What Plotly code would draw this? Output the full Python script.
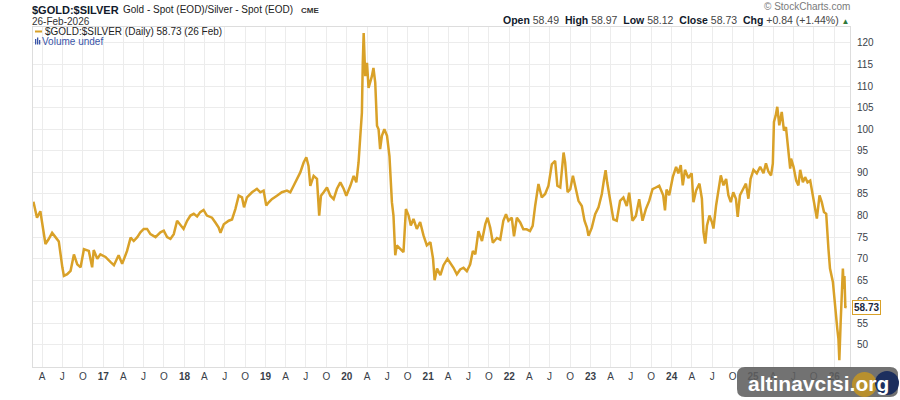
import plotly.graph_objects as go

# ---------------- data ----------------
dates = [
    "2016-02-22", "2016-03-01", "2016-03-09", "2016-03-24", "2016-04-08", "2016-04-16", "2016-04-30",
    "2016-05-16", "2016-05-31", "2016-06-15", "2016-07-01", "2016-07-08", "2016-07-23", "2016-08-07",
    "2016-08-22", "2016-09-06", "2016-09-21", "2016-10-06", "2016-10-28", "2016-11-12", "2016-11-19",
    "2016-12-05", "2016-12-19", "2017-01-11", "2017-02-03", "2017-02-18", "2017-03-11", "2017-03-27",
    "2017-04-18", "2017-05-04", "2017-05-18", "2017-06-03", "2017-06-17", "2017-07-02", "2017-07-17",
    "2017-08-01", "2017-08-24", "2017-09-15", "2017-09-30", "2017-10-15", "2017-10-30", "2017-11-14",
    "2017-11-29", "2017-12-13", "2017-12-28", "2018-01-13", "2018-01-28", "2018-02-12", "2018-02-27",
    "2018-03-13", "2018-03-28", "2018-04-12", "2018-05-05", "2018-05-20", "2018-06-04", "2018-06-12",
    "2018-06-27", "2018-07-19", "2018-08-03", "2018-08-18", "2018-09-02", "2018-09-17", "2018-09-26",
    "2018-10-09", "2018-11-01", "2018-11-23", "2018-12-08", "2018-12-23", "2019-01-04", "2019-01-14",
    "2019-01-29", "2019-02-21", "2019-03-15", "2019-04-07", "2019-04-22", "2019-05-07", "2019-05-22",
    "2019-06-06", "2019-06-21", "2019-07-03", "2019-07-13", "2019-07-21", "2019-08-05", "2019-08-20",
    "2019-08-30", "2019-09-07", "2019-09-19", "2019-10-04", "2019-10-19", "2019-11-03", "2019-11-18",
    "2019-12-03", "2019-12-18", "2019-12-30", "2020-01-17", "2020-02-01", "2020-02-13", "2020-02-23",
    "2020-03-02", "2020-03-09", "2020-03-13", "2020-03-17", "2020-03-24", "2020-04-01", "2020-04-08",
    "2020-04-15", "2020-04-23", "2020-04-30", "2020-05-08", "2020-05-16", "2020-05-23", "2020-05-30",
    "2020-06-07", "2020-06-18", "2020-06-30", "2020-07-11", "2020-07-22", "2020-07-29", "2020-08-06",
    "2020-08-13", "2020-08-28", "2020-09-12", "2020-09-23", "2020-10-05", "2020-10-15", "2020-10-27",
    "2020-11-11", "2020-11-26", "2020-12-11", "2020-12-26", "2021-01-11", "2021-01-23", "2021-01-30",
    "2021-02-10", "2021-02-25", "2021-03-11", "2021-03-29", "2021-04-10", "2021-04-25", "2021-05-10",
    "2021-05-25", "2021-06-09", "2021-06-24", "2021-07-09", "2021-07-21", "2021-08-01", "2021-08-15",
    "2021-08-31", "2021-09-15", "2021-09-25", "2021-10-07", "2021-10-19", "2021-11-06", "2021-11-21",
    "2021-12-05", "2021-12-17", "2021-12-28", "2022-01-12", "2022-01-22", "2022-02-04", "2022-02-19",
    "2022-03-05", "2022-03-20", "2022-04-04", "2022-04-16", "2022-04-27", "2022-05-12", "2022-05-27",
    "2022-06-11", "2022-06-26", "2022-07-11", "2022-07-26", "2022-08-05", "2022-08-18", "2022-09-02",
    "2022-09-09", "2022-09-20", "2022-10-02", "2022-10-14", "2022-10-24", "2022-11-08", "2022-11-23",
    "2022-12-05", "2022-12-16", "2022-12-23", "2023-01-07", "2023-01-22", "2023-02-06", "2023-02-21",
    "2023-03-03", "2023-03-10", "2023-03-17", "2023-03-30", "2023-04-14", "2023-04-29", "2023-05-14",
    "2023-05-29", "2023-06-13", "2023-06-24", "2023-07-09", "2023-07-24", "2023-08-08", "2023-08-23",
    "2023-09-07", "2023-09-22", "2023-10-07", "2023-10-22", "2023-11-06", "2023-11-24", "2023-12-02",
    "2023-12-09", "2023-12-21", "2024-01-06", "2024-01-21", "2024-01-31", "2024-02-11", "2024-02-20",
    "2024-03-01", "2024-03-16", "2024-03-31", "2024-04-08", "2024-04-20", "2024-05-05", "2024-05-16",
    "2024-05-23", "2024-05-31", "2024-06-08", "2024-06-19", "2024-06-30", "2024-07-07", "2024-07-19",
    "2024-07-30", "2024-08-09", "2024-08-21", "2024-09-02", "2024-09-12", "2024-09-23", "2024-10-04",
    "2024-10-16", "2024-10-24", "2024-11-03", "2024-11-18", "2024-11-30", "2024-12-11", "2024-12-21",
    "2025-01-03", "2025-01-18", "2025-02-02", "2025-02-17", "2025-02-28", "2025-03-11", "2025-03-23",
    "2025-03-31", "2025-04-05", "2025-04-13", "2025-04-20", "2025-04-29", "2025-05-10", "2025-05-20",
    "2025-05-29", "2025-06-09", "2025-06-17", "2025-06-21", "2025-07-02", "2025-07-14", "2025-07-24",
    "2025-08-01", "2025-08-13", "2025-08-23", "2025-09-03", "2025-09-15", "2025-09-27", "2025-10-07",
    "2025-10-15", "2025-10-27", "2025-11-06", "2025-11-16", "2025-11-26", "2025-12-06", "2025-12-13",
    "2025-12-26", "2026-01-02", "2026-01-08", "2026-01-15", "2026-01-20", "2026-01-24", "2026-01-30",
    "2026-02-04", "2026-02-09", "2026-02-13", "2026-02-16", "2026-02-20", "2026-02-26",
]
ratio = [
    83.2, 81.3, 79.5, 81.0, 76.5, 73.4, 74.5,
    76.0, 75.0, 74.0, 68.0, 66.0, 66.4, 67.2,
    71.0, 68.7, 68.0, 72.2, 71.8, 68.0, 72.0,
    70.0, 71.0, 70.4, 69.2, 68.5, 70.8, 68.8,
    71.8, 74.9, 74.1, 75.0, 76.1, 76.9, 76.9,
    75.7, 75.0, 76.1, 76.5, 75.0, 74.6, 75.7,
    78.8, 78.0, 76.9, 78.8, 80.0, 80.4, 79.8,
    80.8, 81.3, 80.0, 79.5, 78.4, 77.2, 76.0,
    78.0, 78.8, 79.1, 81.5, 84.6, 84.2, 81.9,
    84.2, 85.4, 86.2, 85.4, 85.8, 82.3, 83.0,
    83.8, 84.6, 85.4, 85.8, 85.4, 86.9, 88.5,
    90.0, 92.3, 93.5, 91.5, 86.9, 89.2, 88.5,
    80.0, 84.6, 85.4, 86.5, 84.6, 83.8, 86.2,
    87.7, 86.2, 84.6, 86.9, 89.2, 87.7, 92.3,
    98.5, 103.8, 115.4, 122.3, 112.3, 115.4, 109.6,
    110.8, 112.3, 114.2, 110.8, 100.8, 100.0, 95.4,
    98.5, 100.0, 98.5, 93.8, 83.1, 80.0, 70.8,
    73.1, 72.3, 71.5, 81.5, 80.0, 77.7, 79.2,
    76.9, 78.5, 75.4, 73.1, 73.8, 70.0, 65.0,
    67.7, 66.2, 68.5, 70.0, 69.1, 67.9, 66.4,
    67.5, 67.9, 67.1, 68.7, 71.8, 71.0, 76.4,
    74.1, 78.0, 79.5, 77.2, 73.7, 74.8, 74.4,
    78.8, 80.3, 78.8, 79.5, 75.2, 79.5, 78.4,
    76.8, 76.8, 76.4, 77.6, 82.2, 87.3, 84.2,
    85.0, 86.9, 91.9, 92.7, 86.9, 86.5, 94.6,
    92.3, 85.4, 86.1, 89.2, 86.9, 83.4, 82.2,
    78.8, 77.2, 75.3, 77.2, 80.3, 81.9, 85.0,
    88.4, 90.5, 87.7, 83.4, 79.1, 78.8, 83.4,
    84.2, 82.2, 85.3, 78.8, 79.9, 83.8, 78.8,
    81.5, 83.4, 86.1, 86.5, 86.9, 84.7, 81.2,
    86.0, 84.7, 88.9, 91.3, 89.8, 91.7, 87.0,
    90.6, 88.7, 89.8, 83.1, 85.8, 87.4, 83.9,
    76.2, 73.5, 77.7, 80.0, 78.5, 77.0, 82.4,
    86.2, 89.3, 87.0, 88.5, 84.7, 83.1, 85.4,
    83.9, 79.7, 84.7, 86.2, 87.4, 83.9, 88.5,
    90.6, 89.8, 91.3, 89.8, 92.1, 90.2, 89.3,
    92.1, 101.7, 103.2, 105.2, 100.9, 104.0, 99.7,
    100.5, 94.7, 90.9, 93.2, 91.3, 88.1, 87.0,
    90.6, 87.7, 88.9, 87.7, 88.1, 84.7, 82.0,
    79.3, 84.7, 83.1, 80.8, 80.4, 72.3, 67.7,
    64.6, 60.7, 56.1, 53.7, 51.4, 46.5, 55.3,
    64.6, 67.7, 63.0, 66.0, 58.8, 58.73,
]

x_tick_dates = [
    "2016-04-01", "2016-07-01", "2016-10-01", "2017-01-01", "2017-04-01", "2017-07-01", "2017-10-01",
    "2018-01-01", "2018-04-01", "2018-07-01", "2018-10-01", "2019-01-01", "2019-04-01", "2019-07-01",
    "2019-10-01", "2020-01-01", "2020-04-01", "2020-07-01", "2020-10-01", "2021-01-01", "2021-04-01",
    "2021-07-01", "2021-10-01", "2022-01-01", "2022-04-01", "2022-07-01", "2022-10-01", "2023-01-01",
    "2023-04-01", "2023-07-01", "2023-10-01", "2024-01-01", "2024-04-01", "2024-07-01", "2024-10-01",
    "2025-01-01", "2025-04-01", "2025-07-01", "2025-10-01", "2026-01-01",
]
x_tick_labels = [
    "A", "J", "O", "17", "A", "J", "O", "18", "A", "J", "O", "19", "A", "J", "O", "20",
    "A", "J", "O", "21", "A", "J", "O", "22", "A", "J", "O", "23", "A", "J", "O", "24",
    "A", "J", "O", "25", "A", "J", "O", "26",
]
y_tick_vals = [50, 55, 60, 65, 70, 75, 80, 85, 90, 95, 100, 105, 110, 115, 120]

last_value = 58.73

# ---------------- layout helpers ----------------
W, H = 900, 400
ML, MR, MT, MB = 33, 50, 27, 33
PW, PH = W - ML - MR, H - MT - MB

def px(x):
    return (x - ML) / PW

def py(y):
    return (H - MB - y) / PH

GOLD = "#D9A128"
NAVY = "#1b2740"
FONT = "Arial, Liberation Sans, sans-serif"

ticktext = []
for t in x_tick_labels:
    if t.isdigit():
        ticktext.append("<b>" + t + "</b>")
    else:
        ticktext.append(t)

fig = go.Figure()
fig.add_trace(go.Scatter(
    x=dates, y=ratio, mode="lines",
    line=dict(color=GOLD, width=2.5),
    hoverinfo="skip", showlegend=False,
))

grid = "#ececec"
fig.update_layout(
    width=W, height=H,
    margin=dict(l=ML, r=MR, t=MT, b=MB, pad=0),
    paper_bgcolor="white", plot_bgcolor="white",
    font=dict(family=FONT, size=10, color="#333333"),
    showlegend=False,
    xaxis=dict(
        type="date", range=["2016-02-20", "2026-03-13"],
        tickmode="array", tickvals=x_tick_dates, ticktext=ticktext,
        showgrid=True, gridcolor=grid, gridwidth=1,
        showline=True, linecolor="#dddddd", linewidth=1, mirror=True,
        ticks="", tickfont=dict(size=10, color="#3a3f4a", family=FONT),
        zeroline=False,
    ),
    yaxis=dict(
        side="right", range=[44.9, 123.7],
        tickmode="array", tickvals=y_tick_vals,
        showgrid=True, gridcolor=grid, gridwidth=1,
        showline=True, linecolor="#dddddd", linewidth=1, mirror=True,
        ticks="", ticklabelstandoff=4,
        tickfont=dict(size=10, color="#3a3f4a", family=FONT),
        zeroline=False,
    ),
)

ann = []
def text(x, y, s, size=10, color=NAVY, anchor="left", yanchor="middle"):
    ann.append(dict(x=px(x), y=py(y), xref="paper", yref="paper", text=s,
                    showarrow=False, xanchor=anchor, yanchor=yanchor,
                    font=dict(size=size, color=color, family=FONT), borderpad=0))

text(31, 10, "<b>$GOLD:$SILVER</b>", size=11, color="#111a2b")
text(122, 10, "Gold - Spot (EOD)/Silver - Spot (EOD)", size=10, color="#222")
text(300, 10.5, "<b>CME</b>", size=8, color="#333")
text(31, 21, "26-Feb-2026", size=10, color="#333")
text(851, 7, "\u00a9 StockCharts.com", size=10, color="#7a7a7a", anchor="right")
text(851, 19.5,
     "<b>Open</b> <span style='color:#444'>58.49</span>  <b>High</b> <span style='color:#444'>58.97</span>  "
     "<b>Low</b> <span style='color:#444'>58.12</span>  <b>Close</b> <span style='color:#444'>58.73</span>  "
     "<b>Chg</b> <span style='color:#444'>+0.84 (+1.44%)</span> <span style='color:#2f7a3a;font-size:8px'>\u25b2</span>",
     size=10.5, color="#111a2b", anchor="right")
text(44, 31.5, "$GOLD:$SILVER (Daily) 58.73 (26 Feb)", size=10, color="#222")
text(41, 41.5, "Volume undef", size=10, color="#3a55a8")

# last value tag
ann.append(dict(x=1.0, y=last_value, xref="paper", yref="y", text="<b>58.73</b>",
                showarrow=False, xanchor="left", yanchor="middle", xshift=2,
                font=dict(size=10, color=NAVY, family=FONT),
                bgcolor="white", bordercolor=GOLD, borderwidth=1, borderpad=1))

# watermark text
ann.append(dict(x=px(818), y=py(383), xref="paper", yref="paper",
                text="<b>altinavcisi.org</b>", showarrow=False,
                xanchor="center", yanchor="middle",
                font=dict(size=21, color="white", family=FONT)))

shapes = []
# legend line glyph
shapes.append(dict(type="line", xref="paper", yref="paper",
                   x0=px(35), x1=px(42), y0=py(31.5), y1=py(31.5),
                   line=dict(color=GOLD, width=2)))
# volume icon bars
for bx, top in [(35, 39), (37, 37.5), (39, 40)]:
    shapes.append(dict(type="rect", xref="paper", yref="paper",
                       x0=px(bx), x1=px(bx + 1.3), y0=py(44.5), y1=py(top),
                       line=dict(width=0), fillcolor="#3a55a8"))

# watermark box with rounded corners
x0, x1, y0, y1, r = 737, 898, 367, 397, 8
path = (f"M {px(x0 + r)},{py(y0)} L {px(x1 - r)},{py(y0)} "
        f"Q {px(x1)},{py(y0)} {px(x1)},{py(y0 + r)} L {px(x1)},{py(y1 - r)} "
        f"Q {px(x1)},{py(y1)} {px(x1 - r)},{py(y1)} L {px(x0 + r)},{py(y1)} "
        f"Q {px(x0)},{py(y1)} {px(x0)},{py(y1 - r)} L {px(x0)},{py(y0 + r)} "
        f"Q {px(x0)},{py(y0)} {px(x0 + r)},{py(y0)} Z")
shapes.append(dict(type="path", xref="paper", yref="paper", path=path,
                   fillcolor="rgba(95,95,95,0.88)", line=dict(width=0), layer="above"))
shapes.append(dict(type="circle", xref="paper", yref="paper",
                   x0=px(852), x1=px(877), y0=py(372), y1=py(397),
                   fillcolor="#b8902e", line=dict(width=0), layer="above"))
shapes.append(dict(type="circle", xref="paper", yref="paper",
                   x0=px(875), x1=px(899), y0=py(371), y1=py(395),
                   fillcolor="#1c2f5e", line=dict(width=0), layer="above"))

fig.update_layout(annotations=ann, shapes=shapes)
fig.write_html("out.html")
